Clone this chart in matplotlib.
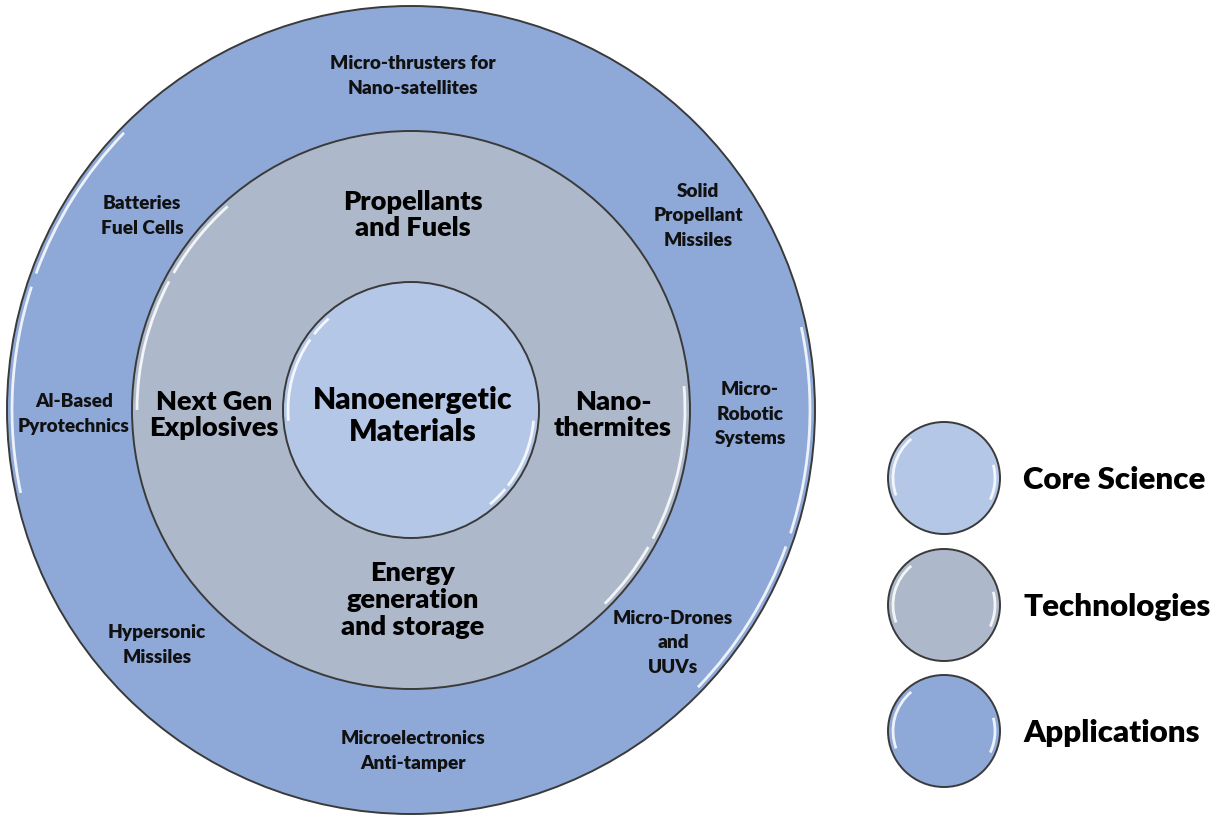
import matplotlib
matplotlib.use("Agg")
import matplotlib.pyplot as plt
from matplotlib.patches import Circle, Arc

# ---------------- data ----------------
legend_labels = ["Core Science", "Technologies", "Applications"]
core_label = "Nanoenergetic\nMaterials"
technology_labels = ["Propellants\nand Fuels", "Next Gen\nExplosives",
                     "Nano-\nthermites", "Energy\ngeneration\nand storage"]
application_labels = ["Micro-thrusters for\nNano-satellites", "Batteries\nFuel Cells",
                      "Solid\nPropellant\nMissiles", "Al-Based\nPyrotechnics",
                      "Micro-\nRobotic\nSystems", "Hypersonic\nMissiles",
                      "Micro-Drones\nand\nUUVs", "Microelectronics\nAnti-tamper"]

# ---------------- layout / style ----------------
W, H = 1231, 818
col_core = "#B4C7E7"
col_tech = "#ADB9CA"
col_app = "#8EA9D8"
edge = "#3a3a3a"
FONT = ["Lato", "DejaVu Sans"]
WEIGHT = "heavy"

cx, cy = 411, 410
r_app, r_tech, r_core = 404, 279, 128

tech_pos = [(413, 215), (214, 415), (613, 415), (413, 600)]
app_pos = [(413, 76), (142, 216), (698, 216), (74, 414), (750, 414),
           (157, 645), (673, 643), (413, 751)]
leg_x, leg_r = 944, 56
leg_y = [478, 605, 731]
leg_text_x = 1023

fig = plt.figure(figsize=(W / 100, H / 100), dpi=100)
ax = fig.add_axes([0, 0, 1, 1])
ax.set_xlim(0, W)
ax.set_ylim(H, 0)
ax.axis("off")


def bubble(x, y, r, color, z, hl_ranges):
    ax.add_patch(Circle((x, y), r, facecolor=color, edgecolor=edge, lw=1.4, zorder=z))
    for (t1, t2) in hl_ranges:
        # y axis is inverted, so negate angles to keep mathematical orientation
        ax.add_patch(Arc((x, y), 2 * (r - 5), 2 * (r - 5), theta1=-t2, theta2=-t1,
                         color="white", lw=2.0, alpha=0.85, zorder=z + 0.5))


bubble(cx, cy, r_app, col_app, 1, [(136, 160), (162, 192), (-44, -20), (-18, 12)])
bubble(cx, cy, r_tech, col_tech, 2, [(132, 150), (152, 180), (-45, -30), (-28, 5)])
bubble(cx, cy, r_core, col_core, 3, [(132, 142), (145, 185), (-50, -40), (-38, -5)])

for label, color, y in zip(legend_labels, [col_core, col_tech, col_app], leg_y):
    bubble(leg_x, y, leg_r, color, 3, [(130, 200), (-25, 15)])
    ax.text(leg_text_x, y + 2, label, fontsize=22.5, fontweight=WEIGHT, family=FONT,
            ha="left", va="center", color="black", zorder=5)

ax.text(cx + 2, 416, core_label, fontsize=21.5, fontweight=WEIGHT, family=FONT,
        ha="center", va="center", linespacing=1.2, zorder=5)

for label, (x, y) in zip(technology_labels, tech_pos):
    ax.text(x, y, label, fontsize=19.5, fontweight=WEIGHT, family=FONT,
            ha="center", va="center", linespacing=1.15, zorder=5)

for label, (x, y) in zip(application_labels, app_pos):
    ax.text(x, y, label, fontsize=13.7, fontweight=WEIGHT, family=FONT,
            ha="center", va="center", linespacing=1.55, color="#111111", zorder=5)

fig.savefig("out.png", dpi=100, facecolor="white")
